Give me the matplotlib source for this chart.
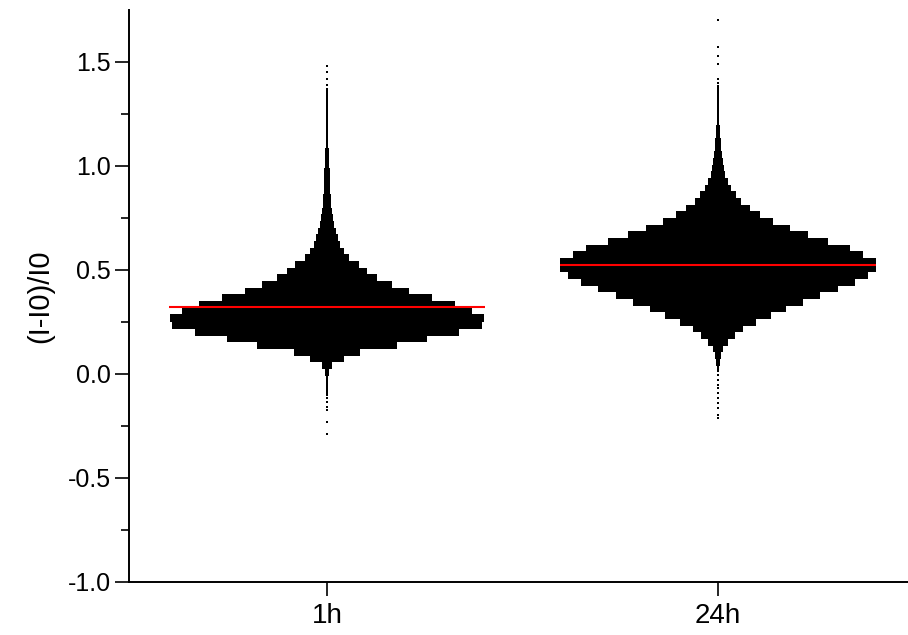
import numpy as np
import matplotlib.pyplot as plt

plt.rcParams['font.family'] = ['Liberation Sans', 'DejaVu Sans']

groups = ['1h', '24h']
positions = [1, 2]
bin_width = 0.032

# histogram of each column: lower edge of the first bin, then counts per bin going up
start_1h = -0.1003
counts_1h = [1, 1, 1, 2, 5, 17, 33, 70, 100, 132, 155, 157, 145, 128, 105, 82,
             65, 50, 40, 32, 22, 17, 13, 11, 9, 7, 6, 5, 4, 4, 3, 3, 3, 3, 2,
             2, 2, 1, 1, 1, 1, 1, 1, 1, 1, 1]
start_24h = 0.0112
counts_24h = [1, 2, 3, 5, 10, 17, 25, 38, 53, 68, 85, 102, 120, 137, 150, 158,
              158, 145, 132, 110, 90, 72, 55, 42, 32, 23, 18, 13, 10, 7, 6, 5,
              4, 3, 3, 2, 2, 1, 1, 1, 1, 1, 1]

# single points outside the binned body
outliers_1h = [-0.115, -0.135, -0.16, -0.173, -0.23, -0.29,
               1.39, 1.42, 1.45, 1.48]
outliers_24h = [-0.005, -0.029, -0.053, -0.067, -0.091, -0.115, -0.139,
                -0.163, -0.197, -0.212, 1.38, 1.40, 1.42, 1.49, 1.53, 1.57, 1.70]

medians = [0.321, 0.524]

starts = [start_1h, start_24h]
counts = [counts_1h, counts_24h]
outliers = [outliers_1h, outliers_24h]

fig = plt.figure(figsize=(9.08, 6.35), dpi=100)
ax = fig.add_axes([0.142, 0.0835, 0.858, 0.9008])

dx = 0.00512  # horizontal spacing between neighbouring points in a bin
bar_marker = [(-1, -3), (1, -3), (1, 3), (-1, 3)]

for pos, lo, cnt, extra, med in zip(positions, starts, counts, outliers, medians):
    xs, ys = [], []
    for k, n in enumerate(cnt):
        yc = lo + (k + 0.5) * bin_width
        offs = (np.arange(n) - (n - 1) / 2) * dx
        xs.extend(pos + offs)
        ys.extend([yc] * n)
    ax.scatter(xs, ys, s=26, marker=bar_marker, color='black', linewidths=0, zorder=2)
    ax.scatter([pos] * len(extra), extra, s=3, marker='s', color='black',
               linewidths=0, zorder=2)
    ax.hlines(med, pos - 0.403, pos + 0.403, color='red', lw=1.5, zorder=3)

ax.set_xlim(0.4936, 2.486)
ax.set_ylim(-1.0, 1.75)
ax.set_xticks(positions)
ax.set_xticklabels(groups, fontsize=20)
ax.set_yticks(np.arange(-1.0, 1.51, 0.5))
ax.set_yticks(np.arange(-0.75, 1.51, 0.5), minor=True)
ax.set_yticklabels(['%.1f' % v for v in np.arange(-1.0, 1.51, 0.5)], fontsize=18)
ax.set_ylabel('(I-I0)/I0', fontsize=21, labelpad=10)

ax.spines['top'].set_visible(False)
ax.spines['right'].set_visible(False)
for side in ('left', 'bottom'):
    ax.spines[side].set_linewidth(1.4)
ax.tick_params(axis='both', which='major', direction='out', length=10, width=1.2)
ax.tick_params(axis='y', which='major', pad=3)
ax.tick_params(axis='x', which='major', pad=5)
ax.tick_params(axis='y', which='minor', direction='out', length=5.5, width=1.2)
ax.tick_params(axis='x', which='minor', bottom=False)

fig.savefig('out.png', dpi=100)
